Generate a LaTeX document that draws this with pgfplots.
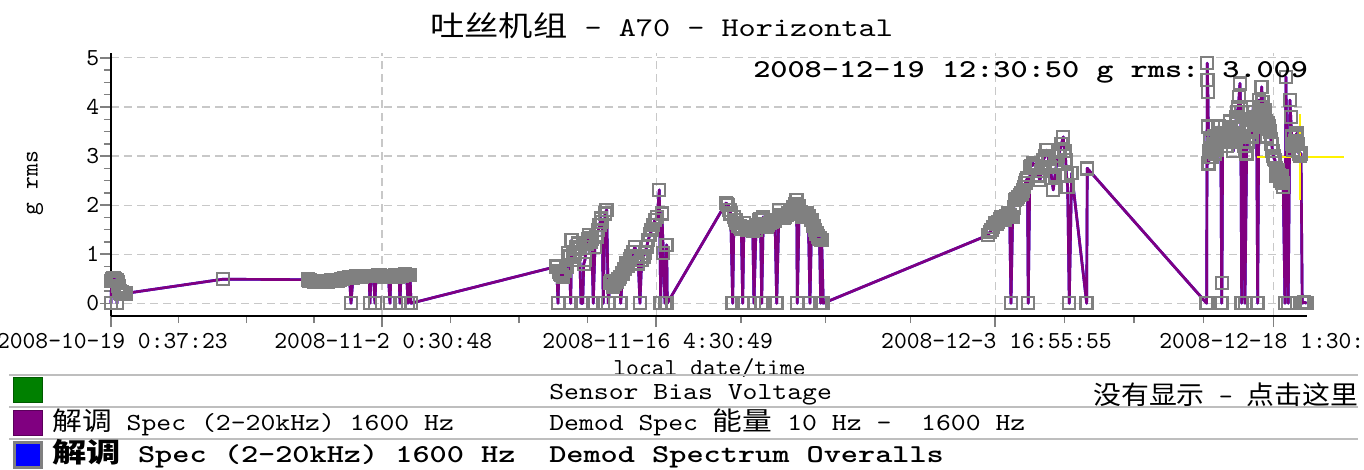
\documentclass[border=0pt]{standalone}
\usepackage{fontspec}
\usepackage{pgfplots}
\usepackage{pgfplotstable}
\pgfplotsset{compat=1.18}
\newfontfamily\lmtt{lmmono10-regular.otf}[BoldFont=lmmonolt10-bold.otf]
\newfontfamily\cjk{Noto Sans CJK SC}[Scale=1.05]
\definecolor{dpurple}{RGB}{128,0,128}
\definecolor{gridc}{RGB}{200,200,200}
\definecolor{sepc}{RGB}{190,190,190}
\definecolor{dgreen}{RGB}{0,128,0}
\newcommand\tickf{\lmtt\fontsize{18.3pt}{20pt}\selectfont}
\newcommand\legf{\lmtt\fontsize{18.4pt}{20pt}\selectfont}
\newcommand\titf{\lmtt\fontsize{20.3pt}{22pt}\selectfont}
\newcommand\bldf{\lmtt\bfseries\fontsize{19.3pt}{21pt}\selectfont}

% d = days since 2008-10-19 0:37:23, v = g rms
\pgfplotstableread{
d v
0.000 0.00
0.030 0.45
0.052 0.47
0.080 0.49
0.103 0.50
0.130 0.51
0.155 0.49
0.180 0.48
0.207 0.48
0.230 0.47
0.258 0.47
0.280 0.46
0.310 0.00
0.362 0.42
0.390 0.35
0.413 0.30
0.440 0.25
0.465 0.22
0.490 0.21
0.517 0.20
0.540 0.21
0.568 0.22
0.590 0.20
0.620 0.19
0.680 0.20
0.740 0.20
5.785 0.49
10.176 0.48
10.26 0.46
10.34 0.45
10.434 0.45
10.51 0.44
10.59 0.45
10.692 0.44
10.77 0.45
10.85 0.44
10.950 0.45
11.03 0.44
11.12 0.45
11.209 0.44
11.29 0.45
11.38 0.46
11.467 0.46
11.55 0.45
11.64 0.45
11.725 0.45
11.81 0.47
11.90 0.49
11.984 0.50
12.07 0.51
12.16 0.52
12.242 0.52
12.32 0.53
12.397 0.00
12.500 0.52
12.58 0.54
12.66 0.55
12.707 0.55
12.79 0.54
12.88 0.55
12.965 0.54
13.05 0.55
13.12 0.56
13.172 0.56
13.25 0.55
13.33 0.56
13.378 0.00
13.43 0.55
13.481 0.55
13.56 0.56
13.636 0.00
13.69 0.56
13.740 0.56
13.82 0.57
13.895 0.57
13.98 0.56
14.05 0.55
14.101 0.54
14.18 0.55
14.256 0.56
14.33 0.55
14.411 0.00
14.46 0.55
14.515 0.55
14.59 0.56
14.669 0.57
14.75 0.55
14.824 0.53
14.88 0.55
14.928 0.00
14.98 0.56
15.031 0.56
15.11 0.58
15.186 0.59
15.27 0.58
15.341 0.00
15.393 0.58
15.45 0.57
15.496 0.00
23.022 0.75
23.089 0.00
23.14 0.65
23.192 0.61
23.28 0.58
23.363 0.54
23.45 0.66
23.538 0.75
23.621 1.02
23.68 0.95
23.745 0.00
23.797 1.29
23.86 1.05
23.915 0.88
23.97 1.00
24.019 1.15
24.08 1.10
24.138 1.22
24.20 1.15
24.277 0.00
24.365 0.00
24.42 0.80
24.483 0.88
24.571 1.22
24.64 1.30
24.706 1.39
24.77 1.25
24.830 1.32
24.912 0.00
25.000 1.15
25.08 1.35
25.171 1.49
25.24 1.60
25.310 1.73
25.37 1.65
25.429 0.00
25.517 1.83
25.604 1.90
25.687 0.00
25.775 0.41
25.86 0.45
25.945 0.34
26.03 0.40
26.121 0.44
26.21 0.50
26.291 0.54
26.327 0.00
26.431 0.61
26.53 0.70
26.637 0.81
26.72 0.76
26.80 0.90
26.896 0.95
26.98 1.05
27.066 1.15
27.15 0.95
27.237 0.81
27.324 0.00
27.412 0.88
27.50 0.95
27.583 1.02
27.67 1.15
27.754 1.29
27.84 1.40
27.929 1.49
28.01 1.60
28.099 1.70
28.218 1.76
28.322 2.31
28.394 0.00
28.461 1.83
28.528 1.02
28.616 0.00
28.704 1.19
28.735 0.00
31.767 2.04
31.83 2.02
31.886 2.00
31.95 1.90
32.010 1.83
32.113 0.00
32.180 1.76
32.25 1.70
32.320 1.63
32.40 1.58
32.490 1.56
32.56 1.52
32.630 0.00
32.696 1.63
32.77 1.55
32.85 1.50
32.919 1.49
33.00 1.52
33.094 1.49
33.15 1.48
33.213 0.00
33.316 1.49
33.40 1.60
33.487 1.70
33.55 1.72
33.611 0.00
33.694 1.76
33.78 1.62
33.869 1.56
33.95 1.60
34.039 1.63
34.12 1.66
34.210 1.70
34.30 1.68
34.386 0.00
34.504 1.90
34.57 1.80
34.644 1.76
34.73 1.74
34.814 1.76
34.90 1.80
34.985 1.83
35.07 1.86
35.160 1.90
35.25 1.95
35.33 2.02
35.419 2.10
35.450 0.00
35.553 1.97
35.64 1.85
35.729 1.76
35.83 1.80
35.935 1.83
36.02 1.78
36.105 0.00
36.193 1.70
36.28 1.58
36.364 1.49
36.45 1.42
36.534 1.36
36.60 1.32
36.658 0.00
36.710 1.29
36.793 0.00
45.315 1.39
45.40 1.45
45.490 1.49
45.57 1.55
45.661 1.63
45.75 1.62
45.832 1.66
45.92 1.72
46.007 1.76
46.09 1.74
46.178 1.70
46.26 1.78
46.348 1.83
46.42 1.80
46.488 0.00
46.575 1.76
46.63 1.95
46.694 2.10
46.78 2.12
46.865 2.17
46.95 2.20
47.041 2.24
47.10 2.30
47.159 2.37
47.23 2.45
47.299 2.51
47.34 2.55
47.381 0.00
47.469 2.78
47.55 2.80
47.640 2.85
47.73 2.80
47.815 2.78
47.90 2.60
47.986 2.51
48.07 2.70
48.157 2.92
48.25 3.00
48.332 3.12
48.42 2.95
48.502 2.78
48.59 2.55
48.673 2.31
48.76 2.60
48.848 2.85
48.93 3.00
49.019 3.12
49.10 3.25
49.189 3.39
49.25 3.10
49.313 2.92
49.36 2.60
49.417 2.37
49.499 0.00
49.623 2.65
50.398 0.00
50.429 2.75
56.596 0.00
56.627 4.89
56.645 4.55
56.660 4.30
56.680 3.60
56.700 2.85
56.735 3.10
56.767 3.32
56.81 3.10
56.854 2.98
56.90 3.15
56.937 3.25
56.98 3.40
57.025 3.05
57.07 3.20
57.113 3.12
57.16 3.35
57.200 3.60
57.24 3.40
57.283 3.46
57.33 3.30
57.371 0.00
57.390 0.41
57.423 3.32
57.48 3.45
57.541 3.59
57.59 3.40
57.630 3.20
57.67 3.45
57.712 3.32
57.76 3.55
57.800 3.70
57.84 3.50
57.888 3.46
57.93 3.30
57.970 3.10
58.01 3.40
58.058 3.59
58.10 3.70
58.140 3.80
58.18 3.90
58.229 4.00
58.27 4.20
58.316 4.48
58.36 3.90
58.404 0.00
58.45 3.60
58.490 3.40
58.53 3.20
58.575 0.00
58.662 3.05
58.71 3.30
58.750 3.50
58.79 3.65
58.833 3.73
58.88 3.55
58.920 3.40
58.96 3.75
59.004 4.00
59.05 3.90
59.090 3.80
59.13 3.70
59.179 3.66
59.231 0.00
59.298 4.14
59.33 3.85
59.370 3.60
59.40 4.00
59.438 4.41
59.48 4.10
59.520 3.80
59.56 3.85
59.608 3.93
59.65 3.70
59.700 3.40
59.74 3.55
59.779 3.66
59.82 3.60
59.870 3.50
59.91 3.35
59.955 3.25
60.00 3.10
60.040 3.00
60.08 2.95
60.124 2.92
60.17 2.75
60.210 2.60
60.25 2.65
60.295 2.71
60.34 2.60
60.380 2.50
60.42 2.55
60.471 2.58
60.51 2.45
60.553 2.37
60.641 0.00
60.692 4.61
60.811 0.00
60.899 4.14
60.94 3.80
60.990 3.40
61.03 3.25
61.069 3.12
61.11 3.20
61.160 3.30
61.20 3.40
61.245 3.46
61.29 3.25
61.330 3.10
61.37 3.05
61.415 3.01
61.47 3.05
61.534 0.00
61.622 0.02
61.70 0.01
61.762 0.00
}\datatab

\begin{document}
\begin{tikzpicture}
\begin{axis}[
  at={(83.25pt,-237pt)}, anchor=south west,
  scale only axis, width=897pt, height=197.25pt,
  xmin=0, xmax=61.78, ymin=-0.26, ymax=5.1,
  clip=false,
  axis lines=left,
  axis line style={-, black, line width=1.5pt},
  tick align=outside,
  major tick length=8.25pt, minor tick length=5.25pt,
  tick style={gray, line width=1.1pt},
  xtick={0,13.9954,28.1632,45.6725,60.037},
  xticklabels={2008-10-19 0:37:23, 2008-11-2 0:30:48, 2008-11-16 4:30:49, 2008-12-3 16:55:55, 2008-12-18 1:30:40},
  minor xtick={3.4989,6.9977,10.4966,17.537,21.079,24.621,32.540,36.918,41.295,49.264,52.855,56.446},
  ytick={0,1,2,3,4,5},
  minor y tick num=3,
  grid=major,
  major grid style={gridc, line width=0.9pt, dash pattern=on 6pt off 3.75pt},
  xticklabel style={font=\tickf, anchor=base, inner sep=0pt, yshift=-15.75pt, xshift=1pt},
  yticklabel style={font=\tickf, anchor=east, inner sep=0pt, xshift=-0.4pt},
  /pgf/number format/assume math mode=true,
]
\addplot[only marks, mark=square, mark size=4.5pt, mark options={draw=gray, line width=1.8pt, fill=none, solid}] table[x=d,y=v]{\datatab};
\addplot[blue, line width=2pt, line join=round, mark=none] table[x=d,y=v]{\datatab};
\addplot[dpurple, line width=2pt, line join=round, mark=none] table[x=d,y=v]{\datatab};
\addplot[yellow, line width=1.5pt, mark=none] coordinates {(59.194,2.98) (63.688,2.98)};
\addplot[yellow, line width=1.5pt, mark=none] coordinates {(61.415,2.103) (61.415,3.853)};
\end{axis}
\begin{scope}[x=0.75pt,y=-0.75pt]
\node[anchor=base west, inner sep=0pt] at (430,37) {\scalebox{1.206}[1]{\titf{\cjk 吐丝机组} - A70 - Horizontal}};
\node[anchor=base west, inner sep=0pt] at (753,78) {\scalebox{1.27}[1]{\bldf 2008-12-19 12:30:50 g rms: 3.009}};
\node[rotate=90, inner sep=0pt] at (35,183) {\tickf g rms};
\node[anchor=base, inner sep=0pt] at (709.5,375) {\tickf local date/time};
\draw[sepc, line width=1.5pt] (9,375) -- (1358,375);
\draw[sepc, line width=1.5pt] (9,407) -- (1358,407);
\draw[sepc, line width=1.5pt] (9,439) -- (1358,439);
\fill[dgreen] (13,377) rectangle (43,403);
\draw[green!35!black, line width=0.6pt] (13.4,377.4) rectangle (42.6,402.6);
\fill[dpurple] (13,410) rectangle (43,436);
\draw[dpurple!70!black, line width=0.6pt] (13.4,410.4) rectangle (42.6,435.6);
\draw[gray, line width=2.25pt, fill=blue] (14.5,442.5) rectangle (41.5,467.5);
\node[anchor=base west, inner sep=0pt] at (549,399) {\scalebox{1.155}[1]{\legf Sensor Bias Voltage}};
\node[anchor=base west, inner sep=0pt] at (1093,404) {\scalebox{1.083}[1]{\legf{\cjk 没有显示} - {\cjk 点击这里}}};
\node[anchor=base west, inner sep=0pt] at (52,430) {\scalebox{1.155}[1]{\legf{\cjk 解调} Spec (2-20kHz) 1600 Hz}};
\node[anchor=base west, inner sep=0pt] at (549,430) {\scalebox{1.155}[1]{\legf Demod Spec {\cjk 能量} 10 Hz -~~1600 Hz}};
\node[anchor=base west, inner sep=0pt] at (52,462) {\scalebox{1.27}[1]{\bldf{\cjk 解调} Spec (2-20kHz) 1600 Hz}};
\node[anchor=base west, inner sep=0pt] at (549,462) {\scalebox{1.27}[1]{\bldf Demod Spectrum Overalls}};
\end{scope}
\pgfresetboundingbox
\path[use as bounding box] (0,0) rectangle (1023pt,-352.5pt);
\end{tikzpicture}
\end{document}
